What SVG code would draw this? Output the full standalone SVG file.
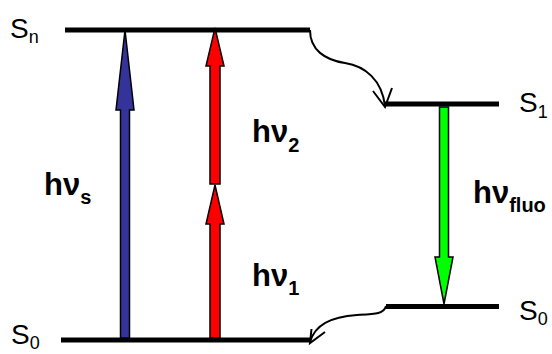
<svg xmlns="http://www.w3.org/2000/svg" width="552" height="354" viewBox="0 0 552 354">
<style>
.lvl{stroke:#000;stroke-width:5;fill:none}
.lbl{font-family:"Liberation Sans",Arial,sans-serif;font-size:28px;fill:#000}
.sub{font-size:18px}
.hv{font-family:"Liberation Sans",Arial,sans-serif;font-weight:bold;font-size:31px;fill:#000}
.hsub{font-size:20px}
.arr{stroke:#000;stroke-width:1.5;stroke-linejoin:miter}
.curve{stroke:#000;stroke-width:2;fill:none}
</style>
<rect width="552" height="354" fill="#fff"/>
<g id="level-Sn"><line class="lvl" x1="65" y1="30" x2="310" y2="30"/><text class="lbl" x="10" y="38">S<tspan class="sub" dy="5">n</tspan></text></g>
<g id="level-S0-left"><line class="lvl" x1="61" y1="340" x2="310" y2="340"/><text class="lbl" x="11" y="344">S<tspan class="sub" dy="5">0</tspan></text></g>
<g id="level-S1"><line class="lvl" x1="385" y1="104" x2="499" y2="104"/><text class="lbl" x="519" y="112">S<tspan class="sub" dy="6">1</tspan></text></g>
<g id="level-S0-right"><line class="lvl" x1="386" y1="306.5" x2="499" y2="306.5"/><text class="lbl" x="519" y="320">S<tspan class="sub" dy="5">0</tspan></text></g>
<g id="connectors">
<polygon id="arrow-hvs" class="arr" fill="#333399" points="120.5,338 120.5,110 116,110 125,30 134,110 129.5,110 129.5,338"/>
<polygon id="arrow-hv2" class="arr" fill="#ff0000" points="210,184 210,66 206,66 215,28 224,66 220,66 220,184"/>
<polygon id="arrow-hv1" class="arr" fill="#ff0000" points="210,338 210,224 206,224 215,185 224,224 220,224 220,338"/>
<polygon id="arrow-fluo" class="arr" fill="#00ff00" points="439.5,107 448.5,107 448.5,257 453,257 444,304 435,257 439.5,257"/>
<path class="curve" d="M310,30 C310,50 325,60 345,63 C365,66 382,80 385,106"/>
<path class="curve" d="M373,91 L385,107 L392,88"/>
<path class="curve" d="M386,306 C384,314 375,314 357,315 C330,317 315,325 310,342"/>
<path class="curve" d="M311.5,329 L310,343 L325,332"/>
</g>
<g id="label-hvs"><text class="hv" x="44" y="195">hν<tspan class="hsub" dy="9">s</tspan></text></g>
<g id="label-hv2"><text class="hv" x="252" y="142">hν<tspan class="hsub" dy="10">2</tspan></text></g>
<g id="label-hv1"><text class="hv" x="252" y="286">hν<tspan class="hsub" dy="9">1</tspan></text></g>
<g id="label-hvfluo"><text class="hv" x="473" y="203">hν<tspan class="hsub" dy="9">fluo</tspan></text></g>
</svg>
